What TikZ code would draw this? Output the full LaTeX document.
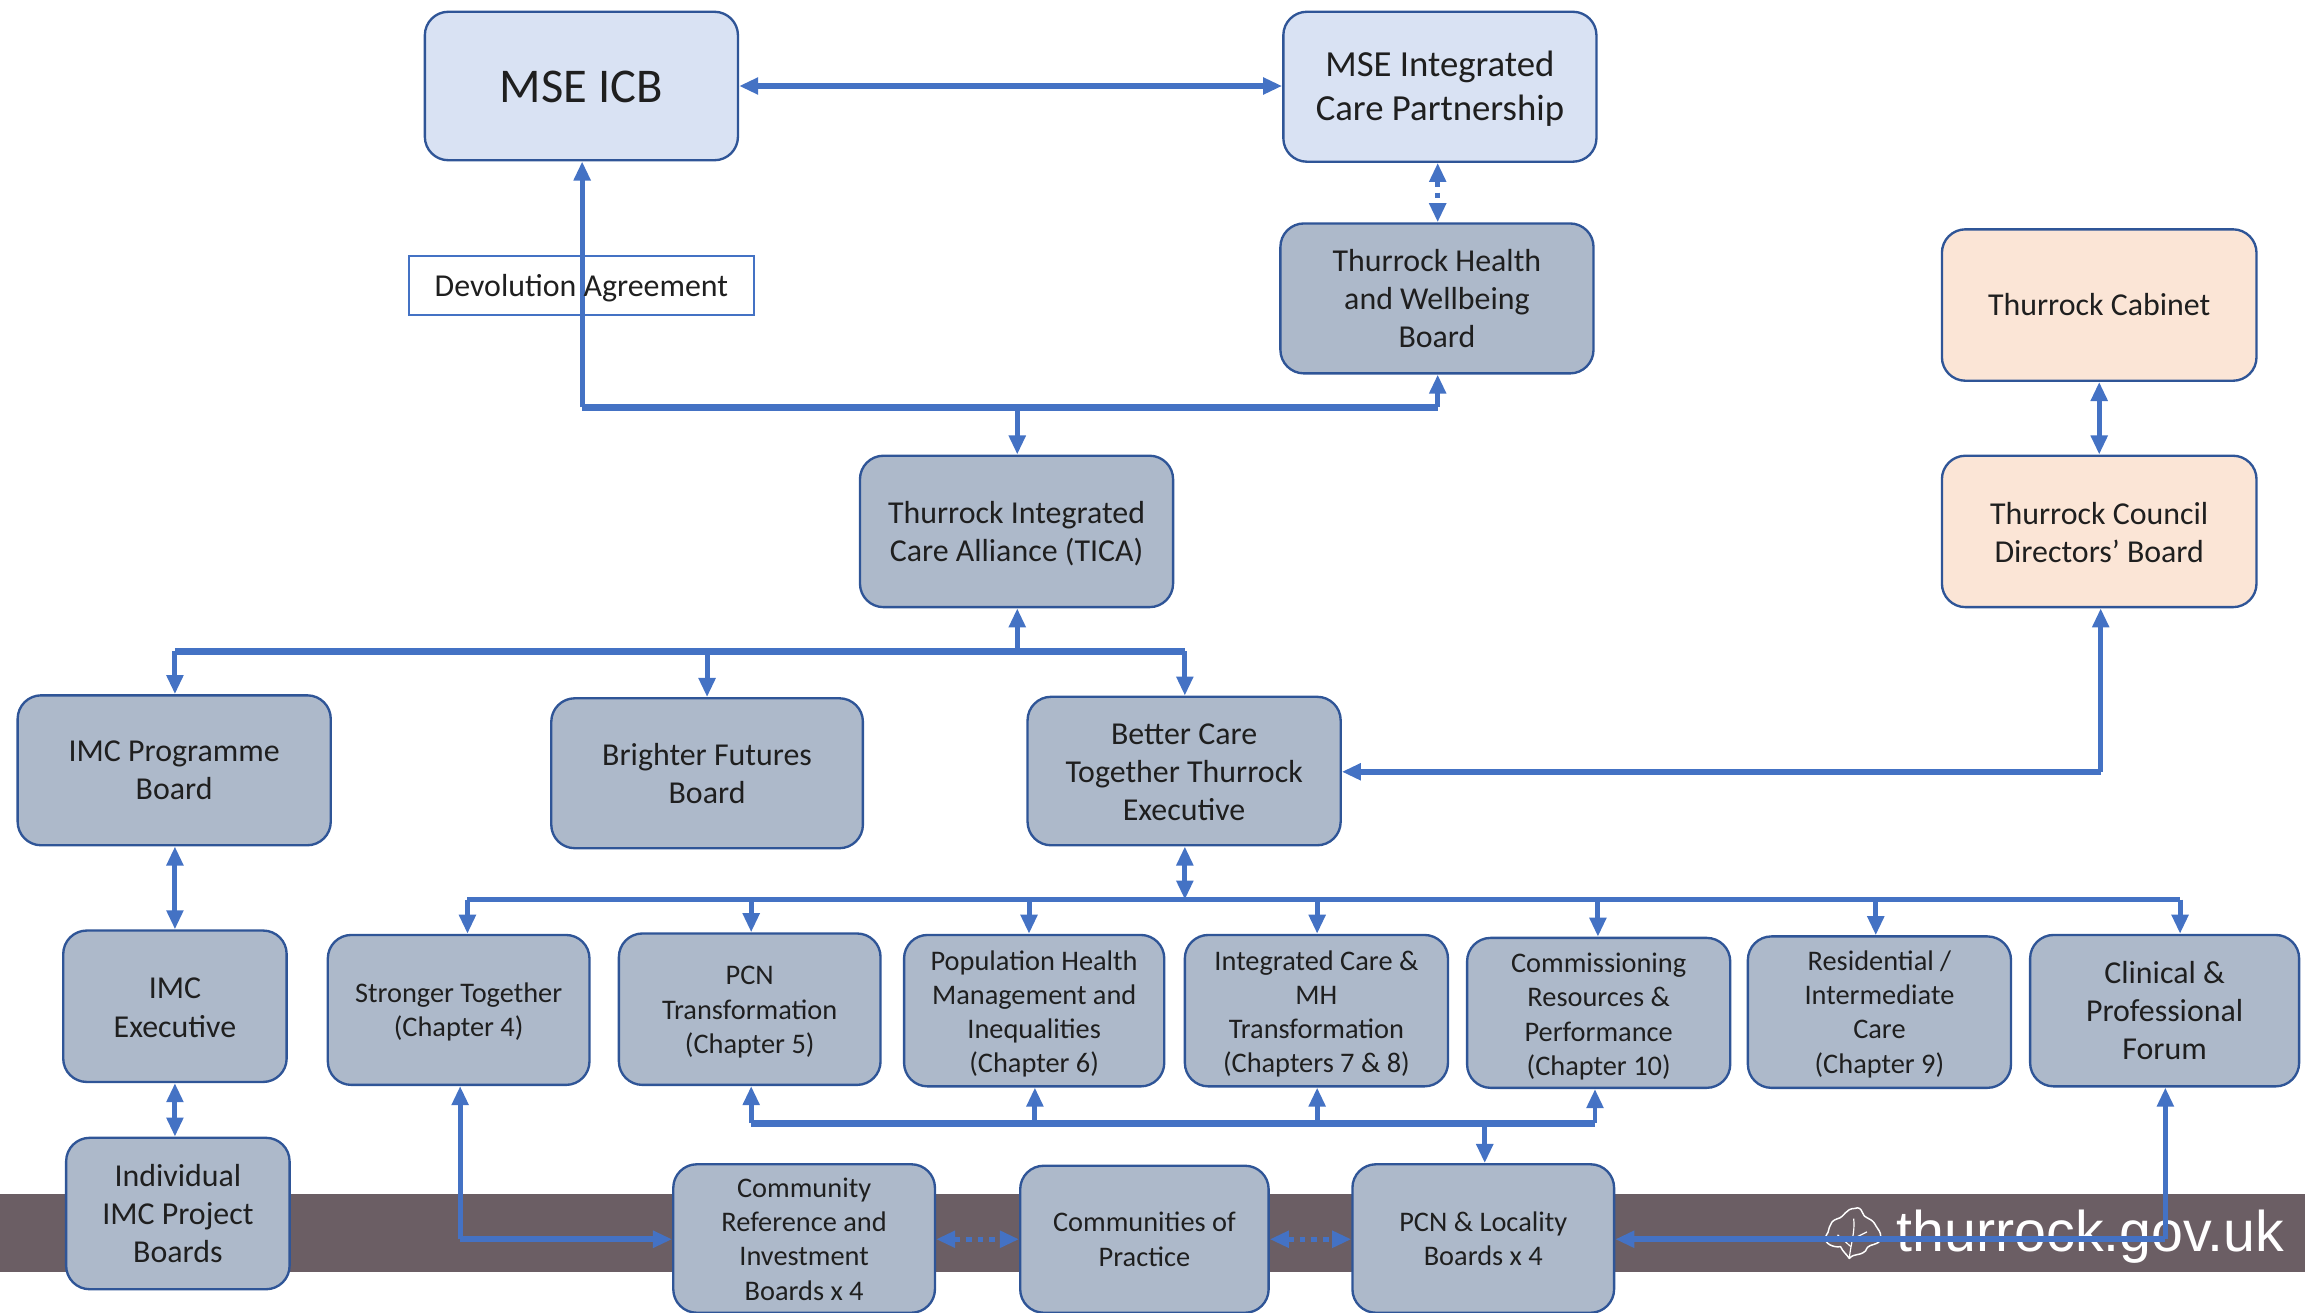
\documentclass[tikz,border=0pt]{standalone}
\usepackage{fontspec}
\setmainfont{Carlito}
\newfontfamily\logofont{Liberation Sans}
\usetikzlibrary{arrows.meta}
\definecolor{lightblue}{HTML}{D9E2F3}
\definecolor{greyblue}{HTML}{ADB9CA}
\definecolor{peach}{HTML}{FBE5D6}
\definecolor{edgeblue}{HTML}{2F5597}
\definecolor{linkblue}{HTML}{4472C4}
\definecolor{bandcol}{HTML}{6B5E64}
\tikzset{
  x=1pt,y=-1pt,
  basebox/.style={draw=edgeblue,line width=1.6pt,rounded corners=16pt,inner sep=0pt},
  greybox/.style={basebox,fill=greyblue},
  palebox/.style={basebox,fill=lightblue},
  peachbox/.style={basebox,fill=peach},
  boxtext/.style={inner sep=0pt,align=center,text=black!88},
  hugetext/.style={boxtext,font=\fontsize{33}{38}\selectfont},
  icptext/.style={boxtext,font=\fontsize{25}{30}\selectfont},
  bigtext/.style={boxtext,font=\fontsize{21.7}{26}\selectfont},
  midtext/.style={boxtext,font=\fontsize{19.3}{23.2}\selectfont},
  link/.style={draw=linkblue,line width=3.4pt,-{Triangle[width=11pt,length=13pt]}},
  linkb/.style={draw=linkblue,line width=3.4pt,{Triangle[width=11pt,length=13pt]}-{Triangle[width=11pt,length=13pt]}},
  linkd/.style={linkb,line width=3.6pt,dash pattern=on 4pt off 4pt},
  plainlink/.style={draw=linkblue,line width=4.8pt},
  thinlink/.style={draw=linkblue,line width=3.2pt},
}
\newcommand{\bx}[9]{% name x1 y1 x2 y2 boxstyle textstyle dy text
  \pgfmathsetmacro{\bxcx}{(#2+#4)/2}\pgfmathsetmacro{\bxcy}{(#3+#5)/2}
  \pgfmathsetmacro{\bxw}{#4-#2}\pgfmathsetmacro{\bxh}{#5-#3}
  \pgfmathsetmacro{\bxty}{\bxcy+#8}
  \node[#6,minimum width=\bxw pt,minimum height=\bxh pt] (#1) at (\bxcx,\bxcy) {};
  \node[#7] (#1-text) at (\bxcx,\bxty) {#9};}
\begin{document}
\begin{tikzpicture}
\useasboundingbox (0,0) rectangle (1568,892.5);
\fill[bandcol] (0,812) rectangle (1568,865);
% logo
\node[text=white,font=\logofont\fontsize{39}{39}\selectfont,anchor=base west,inner sep=0pt] (logo) at (1290,851.5) {thurrock.gov.uk};
\draw[white,line width=1pt,line join=round] (1262,822) .. controls (1255,822) and (1255,828) .. (1250,829)
  .. controls (1243,831) and (1245,838) .. (1242,841) .. controls (1240,846) and (1248,849) .. (1252,848)
  .. controls (1254,852) and (1256,853) .. (1258,856) .. controls (1262,852) and (1264,855) .. (1269,851)
  .. controls (1271,846) and (1273,848) .. (1278,845) .. controls (1282,839) and (1276,835) .. (1275,832)
  .. controls (1272,828) and (1268,829) .. (1267,825) .. controls (1266,822) and (1264,821) .. (1262,822) -- cycle;
\draw[white,line width=.8pt] (1258,856) .. controls (1259,846) and (1262,838) .. (1261,829);
\draw[white,line width=.8pt] (1260,843) -- (1270,838) (1259,848) -- (1250,840);
% boxes
\bx{icb}{289}{8}{502}{109}{palebox}{hugetext}{0.5}{MSE ICB}
\bx{icp}{873}{8}{1086}{110}{palebox}{icptext}{1.5}{MSE Integrated\\Care Partnership}
\bx{hwb}{871}{152}{1084}{254}{greybox}{bigtext}{0}{Thurrock Health\\and Wellbeing\\Board}
\bx{cab}{1321}{156}{1535}{259}{peachbox}{bigtext}{0}{Thurrock Cabinet}
\bx{dir}{1321}{310}{1535}{413}{peachbox}{bigtext}{0.5}{Thurrock Council\\Directors’ Board}
\bx{tica}{585}{310}{798}{413}{greybox}{bigtext}{1.5}{Thurrock Integrated\\Care Alliance (TICA)}
\bx{prog}{12}{473}{225}{575}{greybox}{bigtext}{0}{IMC Programme\\Board}
\bx{bfb}{375}{475}{587}{577}{greybox}{bigtext}{0}{Brighter Futures\\Board}
\bx{bct}{699}{474}{912}{575}{greybox}{bigtext}{1}{Better Care\\Together Thurrock\\Executive}
\bx{exec}{43}{633}{195}{736}{greybox}{bigtext}{1}{IMC\\Executive}
\bx{proj}{45}{774}{197}{877}{greybox}{bigtext}{0}{Individual\\IMC Project\\Boards}
\bx{str}{223}{636}{401}{738}{greybox}{midtext}{1.5}{Stronger Together\\(Chapter 4)}
\bx{pcn}{421}{635}{599}{738}{greybox}{midtext}{2}{PCN\\Transformation\\(Chapter 5)}
\bx{pop}{615}{636}{792}{739}{greybox}{midtext}{2}{Population Health\\Management and\\Inequalities\\(Chapter 6)}
\bx{intc}{806}{636}{985}{739}{greybox}{midtext}{2}{Integrated Care \&\\MH\\Transformation\\(Chapters 7 \& 8)}
\bx{com}{998}{638}{1177}{740}{greybox}{midtext}{2.5}{Commissioning\\Resources \&\\Performance\\(Chapter 10)}
\bx{res}{1189}{637}{1368}{740}{greybox}{midtext}{1.5}{Residential /\\Intermediate\\Care\\(Chapter 9)}
\bx{cli}{1381}{636}{1564}{739}{greybox}{bigtext}{0}{Clinical \&\\Professional\\Forum}
\bx{crib}{458}{792}{636}{893}{greybox}{midtext}{0.5}{Community\\Reference and\\Investment\\Boards x 4}
\bx{cop}{694}{793}{863}{893}{greybox}{midtext}{0}{Communities of\\Practice}
\bx{loc}{920}{792}{1098}{893}{greybox}{midtext}{0}{PCN \& Locality\\Boards x 4}
% devolution box
\node[draw=linkblue,line width=1.4pt,fill=white,minimum width=235pt,minimum height=40pt,inner sep=0pt] (dev) at (395.5,194) {};
% junctions
\coordinate (a1) at (396,277);
\coordinate (a2) at (692,277);
\coordinate (a3) at (978,277);
\coordinate (b1) at (119,443);
\coordinate (b2) at (481,443);
\coordinate (b3) at (692,443);
\coordinate (b4) at (806,443);
\coordinate (c0) at (806,612);
\coordinate (c1) at (318,612);
\coordinate (c2) at (511,612);
\coordinate (c3) at (700,612);
\coordinate (c4) at (896,612);
\coordinate (c5) at (1087,612);
\coordinate (c6) at (1276,612);
\coordinate (c7) at (1483,612);
\coordinate (d1) at (511,764);
\coordinate (d2) at (704,764);
\coordinate (d3) at (896,764);
\coordinate (d4) at (1010,764);
\coordinate (d5) at (1085,764);
\coordinate (e1) at (313,843);
\coordinate (e2) at (1473,843);
\coordinate (f1) at (1429,525);
% connectors
\draw[linkb,line width=4.4pt] (icb.east) -- (icp.west |- icb.east);
\draw[linkd] (icp.south -| a3) -- (hwb.north -| a3);
\draw[link] (a1) -- (icb.south -| a1);
\draw[plainlink] (a1) -- (a3);
\draw[link] (a3) -- (hwb.south -| a3);
\draw[link] (a2) -- (tica.north -| a2);
\draw[linkb] (cab.south) -- (dir.north);
\draw[link] (b3) -- (tica.south -| b3);
\draw[plainlink] (b1) -- (b4);
\draw[link] (b1) -- (prog.north -| b1);
\draw[link] (b2) -- (bfb.north -| b2);
\draw[link] (b4) -- (bct.north -| b4);
\draw[link] (f1) -- (dir.south -| f1);
\draw[link,line width=4.4pt] (f1) -- (bct.east |- f1);
\draw[thinlink] (c1) -- (c7);
\draw[linkb] (bct.south -| c0) -- (c0);
\draw[link] (c1) -- (str.north -| c1);
\draw[link] (c2) -- (pcn.north -| c2);
\draw[link] (c3) -- (pop.north -| c3);
\draw[link] (c4) -- (intc.north -| c4);
\draw[link] (c5) -- (com.north -| c5);
\draw[link] (c6) -- (res.north -| c6);
\draw[link] (c7) -- (cli.north -| c7);
\draw[linkb] (prog.south -| b1) -- (exec.north -| b1);
\draw[linkb] (exec.south -| b1) -- (proj.north -| b1);
\draw[link] (e1) -- (str.south -| e1);
\draw[link,line width=4.4pt] (e1) -- (crib.west |- e1);
\draw[plainlink] (d1) -- (d5);
\draw[link] (d1) -- (pcn.south -| d1);
\draw[link] (d2) -- (pop.south -| d2);
\draw[link] (d3) -- (intc.south -| d3);
\draw[link] (d5) -- (com.south -| d5);
\draw[link] (d4) -- (loc.north -| d4);
\draw[linkd] (crib.east |- e1) -- (cop.west |- e1);
\draw[linkd] (cop.east |- e1) -- (loc.west |- e1);
\draw[link] (e2) -- (cli.south -| e2);
\draw[link,line width=4.4pt] (e2) -- (loc.east |- e2);
% label on top of the connector
\node[boxtext,font=\fontsize{21.7}{26}\selectfont] (devtext) at (395.5,196) {Devolution Agreement};
\end{tikzpicture}
\end{document}
